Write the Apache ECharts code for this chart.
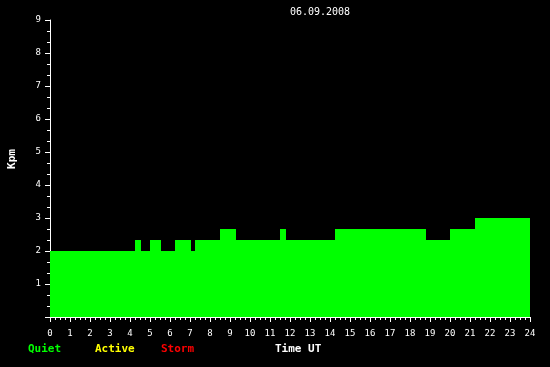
<!DOCTYPE html>
<html>
<head>
<meta charset="utf-8">
<script src="https://cdn.jsdelivr.net/npm/echarts@6/dist/echarts.min.js"></script>
<style>html,body{margin:0;padding:0;background:#000;}#c{width:550px;height:367px;}</style>
</head>
<body>
<div id="c"></div>
<script>
// Segment start times (hours UT) and Kpm values holding from that time
const startTimes = [0, 4.25, 4.55, 5.0, 5.55, 6.25, 7.05, 7.25, 8.5, 9.3, 11.5, 11.8, 14.25, 18.8, 20.0, 21.25, 24];
const kpmValues  = [2.0, 2.33, 2.0, 2.33, 2.0, 2.33, 2.0, 2.33, 2.67, 2.33, 2.67, 2.33, 2.67, 2.33, 2.67, 3.0, 3.0];
const xTicks = [0, 24, 1];
const yTicks = [0, 9, 1];
const titleText = '06.09.2008';
const yAxisTitle = 'Kpm';
const xAxisTitle = 'Time UT';
const legendLabels = ['Quiet', 'Active', 'Storm'];
const legendColors = ['#00ff00', '#ffff00', '#ff0000'];

const font = 'DejaVu Sans Mono';
const chart = echarts.init(document.getElementById('c'));
const data = startTimes.map((t, i) => [t, kpmValues[i]]);

chart.setOption({
  backgroundColor: '#000',
  animation: false,
  graphic: [
    { type: 'text', x: 320, y: 12,
      style: { text: titleText, fill: '#fff', font: '10px ' + font, align: 'center', verticalAlign: 'middle' } },
    { type: 'text', x: 12, y: 159, rotation: Math.PI / 2,
      style: { text: yAxisTitle, fill: '#fff', font: 'bold 11px ' + font, align: 'center', verticalAlign: 'middle' } },
    { type: 'text', left: 28, top: 344, style: { text: legendLabels[0], fill: legendColors[0], font: 'bold 11px ' + font } },
    { type: 'text', left: 95, top: 344, style: { text: legendLabels[1], fill: legendColors[1], font: 'bold 11px ' + font } },
    { type: 'text', left: 161, top: 344, style: { text: legendLabels[2], fill: legendColors[2], font: 'bold 11px ' + font } },
    { type: 'text', left: 275, top: 344, style: { text: xAxisTitle, fill: '#fff', font: 'bold 11px ' + font } }
  ],
  grid: { left: 50, right: 20, top: 20, bottom: 50, containLabel: false, outerBoundsMode: 'none' },
  xAxis: {
    type: 'value', min: xTicks[0], max: xTicks[1], interval: xTicks[2],
    axisLine: { lineStyle: { color: '#fff', width: 1 } },
    axisTick: { length: 5, lineStyle: { color: '#fff' } },
    minorTick: { show: true, splitNumber: 4, length: 3, lineStyle: { color: '#fff' } },
    axisLabel: { color: '#fff', fontFamily: font, fontSize: 9, margin: 12 },
    splitLine: { show: false }
  },
  yAxis: {
    type: 'value', min: yTicks[0], max: yTicks[1], interval: yTicks[2],
    axisLine: { show: true, lineStyle: { color: '#fff', width: 1 } },
    axisTick: { show: true, length: 5, lineStyle: { color: '#fff' } },
    minorTick: { show: true, splitNumber: 3, length: 3, lineStyle: { color: '#fff' } },
    axisLabel: { color: '#fff', fontFamily: font, fontSize: 9, margin: 9,
      formatter: v => v === 0 ? '' : String(v) },
    splitLine: { show: false }
  },
  series: [{
    type: 'line', step: 'end', data: data, symbol: 'none',
    lineStyle: { width: 0 },
    areaStyle: { color: '#00ff00', opacity: 1 }
  }]
});
</script>
</body>
</html>
